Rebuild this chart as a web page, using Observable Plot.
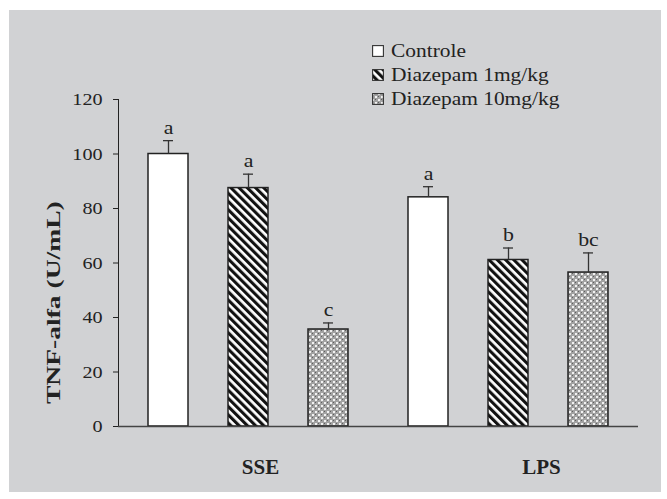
<!DOCTYPE html>
<html>
<head>
<meta charset="utf-8">
<script src="https://cdn.jsdelivr.net/npm/d3@7"></script>
<script src="https://cdn.jsdelivr.net/npm/@observablehq/plot@0.6"></script>
<style>
  html, body { margin: 0; padding: 0; background: #ffffff; }
  #wrap { position: relative; width: 667px; height: 499px; background: #ffffff; overflow: hidden; }
  #bg { position: absolute; left: 9px; top: 10px; width: 652px; height: 482px; background: #d1d2d4; }
  #chart { position: absolute; left: 0; top: 0; }
  #legend { position: absolute; left: 372px; top: 39px; font-family: "Liberation Serif", serif; font-size: 18px; color: #222; }
  #legend .row { display: flex; align-items: center; height: 24px; }
  #legend svg { display: block; margin-right: 7px; }
  #legend span { display: inline-block; transform: scaleX(1.19); transform-origin: left center; white-space: nowrap; }
</style>
</head>
<body>
<div id="wrap">
  <div id="bg"></div>
  <div id="chart"></div>
  <div id="legend"></div>
</div>
<script>
// ---- data ----
const groups = ["SSE", "LPS"];
const treatments = ["Controle", "Diazepam 1mg/kg", "Diazepam 10mg/kg"];
const sseMeans = [100, 87.5, 35.6];
const sseErrors = [4.9, 5.1, 2.4];
const sseLetters = ["a", "a", "c"];
const lpsMeans = [84.1, 61.1, 56.5];
const lpsErrors = [3.9, 4.4, 7.2];
const lpsLetters = ["a", "b", "bc"];
const yTicks = [0, 20, 40, 60, 80, 100, 120];
const yLabel = "TNF-alfa (U/mL)";

const rows = [];
treatments.forEach((t, i) => rows.push({group: "SSE", treatment: t, mean: sseMeans[i], err: sseErrors[i], letter: sseLetters[i]}));
treatments.forEach((t, i) => rows.push({group: "LPS", treatment: t, mean: lpsMeans[i], err: lpsErrors[i], letter: lpsLetters[i]}));

const fills = ["#ffffff", "url(#pat-stripes)", "url(#pat-dots)"];
const errTop = d => d.mean + d.err;

const plot = Plot.plot({
  width: 667,
  height: 499,
  marginLeft: 118,
  marginRight: 29,
  marginTop: 99,
  marginBottom: 73,
  style: {background: "transparent", fontFamily: "Liberation Serif, serif", fontSize: "17.5px", color: "#222"},
  fx: {domain: groups, padding: 0, label: null, axis: null},
  x: {domain: treatments, paddingInner: 0.5, paddingOuter: 0.375, axis: null},
  y: {domain: [0, 120], ticks: yTicks, tickSize: 5, tickPadding: 11, line: true, label: null},
  color: {type: "ordinal", domain: treatments, range: fills},
  marks: [
    Plot.barY(rows, {fx: "group", x: "treatment", y: "mean", fill: "treatment", stroke: "#222", strokeWidth: 1.5}),
    Plot.ruleX(rows, {fx: "group", x: "treatment", y1: "mean", y2: errTop, stroke: "#333", strokeWidth: 1.3}),
    Plot.tickY(rows, {fx: "group", x: "treatment", y: errTop, inset: 15, stroke: "#333", strokeWidth: 1.3}),
    Plot.text(rows, {fx: "group", x: "treatment", y: errTop, text: "letter", lineAnchor: "bottom", dy: -7, fontSize: 19, fill: "#222"}),
    Plot.ruleY([0], {stroke: "#444", strokeWidth: 1.3}),
    Plot.axisFx({anchor: "bottom", ticks: ["SSE"], tickSize: 0, tickPadding: 33, fontSize: 21, fontWeight: "bold", dx: 12, label: null}),
    Plot.axisFx({anchor: "bottom", ticks: ["LPS"], tickSize: 0, tickPadding: 33, fontSize: 21, fontWeight: "bold", dx: 33, label: null}),
    Plot.text([yLabel], {fx: () => "SSE", text: d => d, frameAnchor: "left", rotate: -90, dx: -65, dy: 141, fontSize: 19, fontWeight: "bold", fill: "#222"})
  ]
});

// pattern definitions used by the bar fills
d3.select(plot).insert("defs", ":first-child").html(`
  <pattern id="pat-stripes" patternUnits="userSpaceOnUse" width="5.8" height="5.8" patternTransform="rotate(-45)">
    <rect x="0" y="0" width="5.8" height="5.8" fill="#ffffff"></rect>
    <rect x="0" y="0" width="3.1" height="5.8" fill="#111111"></rect>
  </pattern>
  <pattern id="pat-dots" patternUnits="userSpaceOnUse" width="6" height="6">
    <rect x="0" y="0" width="6" height="6" fill="#a2a2a2"></rect>
    <rect x="0" y="0" width="2" height="2" fill="#f2f2f2"></rect>
    <rect x="3" y="3" width="2" height="2" fill="#f2f2f2"></rect>
    <rect x="3" y="0" width="1" height="1" fill="#5e5e5e"></rect>
    <rect x="0" y="3" width="1" height="1" fill="#5e5e5e"></rect>
  </pattern>`);

// the reference typography is wide: stretch text along its reading direction
function stretchEl(el, k) {
  const t = el.getAttribute("transform");
  if (t) {
    el.setAttribute("transform", t + ` scale(${k},1)`);
  } else {
    const x = +(el.getAttribute("x") || 0), y = +(el.getAttribute("y") || 0);
    el.setAttribute("x", 0);
    el.setAttribute("y", 0);
    el.setAttribute("transform", `translate(${x},${y}) scale(${k},1)`);
  }
}
const tickStrings = new Set(yTicks.map(String));
const letterStrings = new Set([...sseLetters, ...lpsLetters]);
d3.select(plot).selectAll("text").each(function() {
  const s = this.textContent;
  if (s === yLabel) stretchEl(this, 1.45);
  else if (tickStrings.has(s) || letterStrings.has(s)) stretchEl(this, 1.15);
});

document.getElementById("chart").appendChild(plot);

// legend (inside the plot area, top right)
const legend = d3.select("#legend");
treatments.forEach((t, i) => {
  const row = legend.append("div").attr("class", "row");
  const sw = row.append("svg").attr("width", 12).attr("height", 12);
  sw.append("rect").attr("x", 0.6).attr("y", 0.6).attr("width", 10.8).attr("height", 10.8)
    .attr("fill", fills[i]).attr("stroke", "#333").attr("stroke-width", 1.1);
  row.append("span").text(t);
});
</script>
</body>
</html>
